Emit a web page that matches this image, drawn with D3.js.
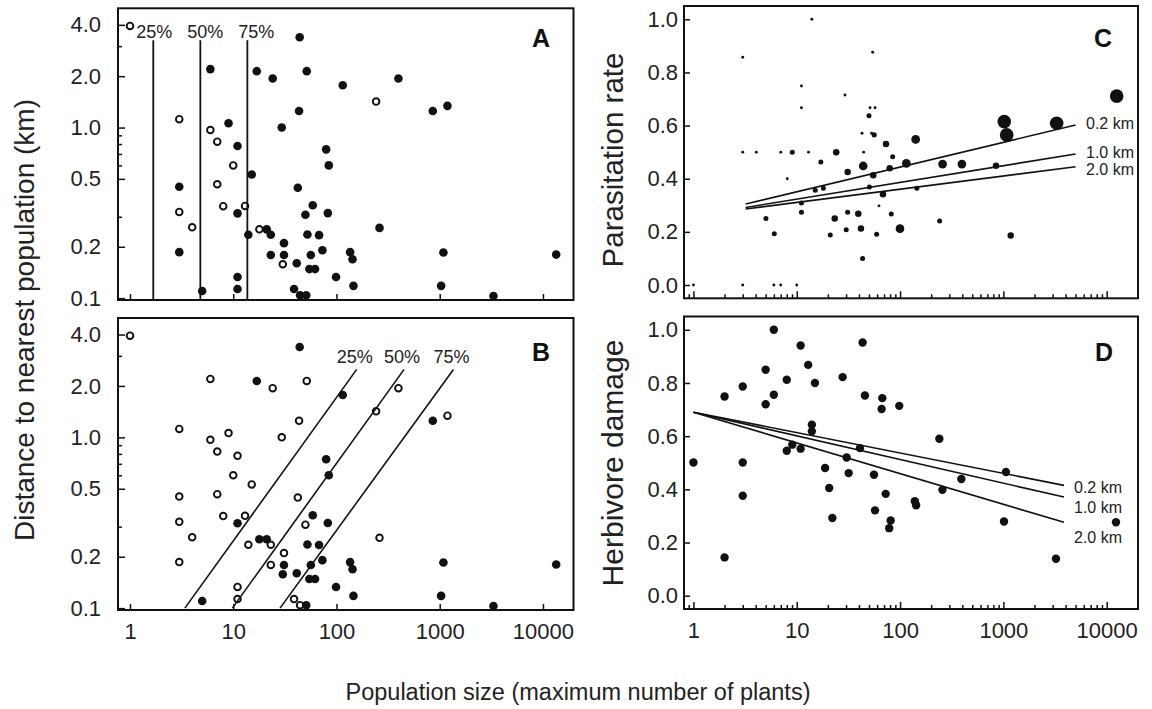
<!DOCTYPE html>
<meta charset="utf-8">
<html>
<body style="margin:0; background-color: white;">
<script src="https://d3js.org/d3.v7.min.js"></script>
<div id="chart"></div>
<script>

    // panels A and B: population size, distance to nearest population (km)
    var popAB  = [1, 6, 16.9, 24.1, 3, 9, 29.5, 6, 7, 11, 10, 15.1, 3, 7, 3, 8, 11, 13, 4, 14,
                  17.9, 21.1, 23.1, 3, 31, 23.1, 31, 30.2, 41.2, 11, 11, 5, 38.8, 44, 51.5, 115, 398, 242, 43.4, 857,
                  1188, 79.4, 84.2, 42.2, 58.9, 50, 82.4, 261, 52.3, 67.8, 73, 56.4, 135.5, 143, 1086, 13430, 54.6, 62, 99, 146,
                  1031, 44.4, 50.9, 3315];
    var distAB = [3.94, 2.2, 2.14, 1.94, 1.12, 1.06, 1.0, 0.967, 0.826, 0.78, 0.6, 0.53, 0.45, 0.465, 0.32, 0.346, 0.314, 0.347, 0.26, 0.235,
                  0.253, 0.253, 0.235, 0.186, 0.21, 0.179, 0.179, 0.158, 0.16, 0.133, 0.113, 0.11, 0.113, 3.38, 2.14, 1.77, 1.94, 1.42, 1.25, 1.25,
                  1.34, 0.745, 0.6, 0.444, 0.35, 0.308, 0.315, 0.258, 0.236, 0.234, 0.191, 0.179, 0.186, 0.169, 0.185, 0.18, 0.148, 0.148, 0.133, 0.118,
                  0.118, 0.104, 0.104, 0.103];
    // 1 = filled symbol, 0 = open symbol
    var filledA = [0, 1, 1, 1, 0, 1, 1, 0, 0, 1, 0, 1, 1, 0, 0, 0, 1, 0, 0, 1,
                   0, 1, 1, 1, 1, 1, 1, 0, 1, 1, 1, 1, 1, 1, 1, 1, 1, 0, 1, 1,
                   1, 1, 1, 1, 1, 1, 1, 1, 1, 1, 1, 1, 1, 1, 1, 1, 1, 1, 1, 1,
                   1, 1, 1, 1];
    var filledB = [0, 0, 1, 0, 0, 0, 0, 0, 0, 0, 0, 0, 0, 0, 0, 0, 1, 0, 0, 0,
                   1, 1, 0, 0, 0, 0, 1, 1, 1, 0, 0, 1, 0, 1, 0, 1, 0, 0, 0, 1,
                   0, 1, 1, 0, 1, 0, 1, 0, 1, 1, 1, 1, 1, 1, 1, 1, 1, 1, 1, 1,
                   1, 0, 1, 1];

    var quartLabels = ["25%", "50%", "75%"];
    var quartA = [1.68, 4.8, 13.7];          // vertical lines in A
    var quartBStart = [3.4, 9.8, 28.4];      // B lines at 0.1 km
    var quartBEnd = [157, 452, 1358];        // B lines at 2.5 km

    // panel C: population size, parasitation rate, sample size
    var popC  = [1, 3, 6, 7, 10, 3, 14, 11.1, 11.1, 29.3, 3, 4.06, 7, 9.05, 13, 24.1, 44.4, 8.1, 17.1, 44,
                 31.1, 15.1, 18.1, 11.1, 11.1, 5.03, 6.06, 23.3, 31.1, 39.4, 21.1, 30.1, 41.8, 43.4, 42.8, 50, 51.2, 57.3, 53, 56.2,
                 73.1, 141.6, 84.8, 79.4, 115, 258, 397, 55, 50.5, 145.5, 68.3, 62.5, 82.2, 241.6, 99.8, 59.3, 54.3, 12500, 1020, 3280,
                 1077, 848, 1178];
    var rateC = [0, 0, 0, 0, 0, 0.857, 1.0, 0.749, 0.667, 0.715, 0.5, 0.5, 0.5, 0.5, 0.5, 0.5, 0.5, 0.4, 0.463, 0.448,
                 0.425, 0.357, 0.364, 0.309, 0.274, 0.25, 0.193, 0.25, 0.274, 0.268, 0.188, 0.208, 0.213, 0.1, 0.571, 0.637, 0.667, 0.667, 0.571, 0.565,
                 0.531, 0.548, 0.483, 0.439, 0.458, 0.455, 0.455, 0.413, 0.369, 0.364, 0.342, 0.298, 0.267, 0.241, 0.212, 0.191, 0.876, 0.711, 0.615, 0.609,
                 0.565, 0.449, 0.186];
    var sampleC = [1, 1, 1, 1, 1, 1, 1, 1, 1, 1, 1, 1, 1, 3, 1, 5, 1, 1, 3, 9,
                   5, 3, 3, 3, 3, 3, 3, 5, 3, 5, 3, 3, 5, 3, 1, 3, 1, 1, 1, 3,
                   5, 9, 3, 5, 9, 9, 9, 5, 3, 3, 5, 1, 3, 3, 9, 3, 1, 22, 22, 22,
                   22, 5, 5];

    // panel D: population size, herbivore damage
    var popD = [1, 2, 2, 3, 3, 3, 5, 5, 6, 6, 8, 8, 9.05, 10.9, 10.9, 12.9, 15, 14, 14, 18.8,
                20.6, 22.1, 27.8, 30.4, 31.8, 40.9, 43.4, 45.7, 67.3, 66.3, 98.2, 240, 55.9, 392, 257, 72.6, 139, 143, 57.2, 81.1,
                78.5, 1059, 1014, 12300, 3230];
    var damageD = [0.501, 0.749, 0.144, 0.787, 0.501, 0.376, 0.85, 0.72, 1.0, 0.756, 0.812, 0.545, 0.568, 0.553, 0.941, 0.868, 0.8, 0.643, 0.618, 0.48,
                   0.405, 0.292, 0.822, 0.52, 0.461, 0.555, 0.952, 0.753, 0.743, 0.702, 0.714, 0.59, 0.455, 0.439, 0.398, 0.383, 0.355, 0.34, 0.321, 0.283,
                   0.254, 0.465, 0.279, 0.276, 0.139];

    // fitted lines for 0.2, 1.0 and 2.0 km
    var kmLabels = ["0.2 km", "1.0 km", "2.0 km"];
    var lineCx = [3.2, 5000];
    var lineCStart = [0.305, 0.292, 0.286];
    var lineCEnd = [0.602, 0.493, 0.445];
    var lineDx = [1, 3860];
    var lineDStart = [0.69, 0.69, 0.69];
    var lineDEnd = [0.415, 0.371, 0.276];

    var logMajor = [1, 10, 100, 1000, 10000];
    var distMajor = [0.1, 0.2, 0.5, 1, 2, 4];
    var distMinor = [0.3, 0.6, 0.7, 0.8, 0.9, 3];
    var rateTicks = [0, 0.2, 0.4, 0.6, 0.8, 1.0];

    var font = "Arial, 'Liberation Sans', Helvetica, sans-serif";

    var svg = d3.select("#chart")
      .append("svg")
        .attr("width", 1152)
        .attr("height", 709)
        .style("font-family", font);

    // scales
    var xL = d3.scaleLog().domain([0.765, 19760]).range([118, 573.5]);
    var xR = d3.scaleLog().domain([0.81, 20100]).range([684, 1138]);
    var yA = d3.scaleLog().domain([0.0975, 5]).range([300, 8.3]);
    var yB = d3.scaleLog().domain([0.0975, 5]).range([610, 318]);
    var yC = d3.scaleLinear().domain([-0.05, 1.05]).range([298.3, 6]);
    var yD = d3.scaleLinear().domain([-0.05, 1.05]).range([609, 316.5]);
    var rC = d3.scaleSqrt().domain([0, 22]).range([0, 6.8]);

    var fmt1 = d3.format(".1f");

    function tidy(g) {
      g.select(".domain").remove();
      g.selectAll(".tick line").attr("stroke", "#111").attr("stroke-width", 1.5);
      g.selectAll(".tick text").attr("fill", "#222").style("font-family", font).attr("font-size", "22px");
    }

    function frame(x, y) {
      svg.append("rect")
        .attr("x", x.range()[0]).attr("y", y.range()[1])
        .attr("width", x.range()[1] - x.range()[0])
        .attr("height", y.range()[0] - y.range()[1])
        .attr("fill", "none").attr("stroke", "#111").attr("stroke-width", 2);
    }

    function minorLog(lo, hi) {
      var out = [];
      for (var p = lo; p <= hi; p *= 10)
        for (var k = 1; k <= 9; k++) {
          var v = p * k;
          if (v >= 0.9 * lo && v <= hi) out.push(v);
        }
      return out;
    }

    // ---------- A and B ----------
    function distPanel(y, filled, showX) {
      var bottom = y.range()[0];
      var left = xL.range()[0];
      svg.append("g").attr("transform", "translate(0," + bottom + ")")
        .call(d3.axisBottom(xL).tickValues(logMajor).tickSize(-6).tickPadding(13)
          .tickFormat(function(d) { return showX ? d3.format("d")(d) : ""; }))
        .call(tidy);
      svg.append("g").attr("transform", "translate(" + left + ",0)")
        .call(d3.axisLeft(y).tickValues(distMajor).tickSize(-7).tickPadding(17).tickFormat(fmt1))
        .call(tidy);
      svg.append("g").attr("transform", "translate(" + left + ",0)")
        .call(d3.axisLeft(y).tickValues(distMinor).tickSize(-4).tickFormat(""))
        .call(tidy);

      var pts = popAB.map(function(d, i) { return {x: d, y: distAB[i], f: filled[i]}; });
      svg.append("g").selectAll("circle")
        .data(pts)
        .enter()
        .append("circle")
          .attr("cx", function(d) { return xL(d.x); })
          .attr("cy", function(d) { return y(d.y); })
          .attr("r", function(d) { return d.f ? 4.3 : 3.3; })
          .attr("fill", function(d) { return d.f ? "#111" : "white"; })
          .attr("stroke", "#111")
          .attr("stroke-width", function(d) { return d.f ? 0 : 1.9; });
    }

    distPanel(yA, filledA, false);
    distPanel(yB, filledB, true);

    // A: vertical quartile lines
    svg.append("g").selectAll("line")
      .data(quartA)
      .enter()
      .append("line")
        .attr("x1", function(d) { return xL(d); })
        .attr("x2", function(d) { return xL(d); })
        .attr("y1", yA(3.25))
        .attr("y2", yA.range()[0])
        .attr("stroke", "#111").attr("stroke-width", 1.8);
    svg.append("g").selectAll("text")
      .data(quartA)
      .enter()
      .append("text")
        .attr("x", function(d, i) { return xL(d) + 1 + i * 4; })
        .attr("y", 38)
        .attr("text-anchor", "middle")
        .attr("font-size", "18px")
        .attr("fill", "#222")
        .text(function(d, i) { return quartLabels[i]; });

    // B: diagonal quartile lines
    svg.append("g").selectAll("line")
      .data(quartBStart)
      .enter()
      .append("line")
        .attr("x1", function(d) { return xL(d); })
        .attr("y1", yB(0.1))
        .attr("x2", function(d, i) { return xL(quartBEnd[i]); })
        .attr("y2", yB(2.5))
        .attr("stroke", "#111").attr("stroke-width", 1.6);
    svg.append("g").selectAll("text")
      .data(quartBEnd)
      .enter()
      .append("text")
        .attr("x", function(d) { return xL(d) - 2; })
        .attr("y", 363)
        .attr("text-anchor", "middle")
        .attr("font-size", "18px")
        .attr("fill", "#222")
        .text(function(d, i) { return quartLabels[i]; });

    frame(xL, yA);
    frame(xL, yB);

    // ---------- C and D ----------
    function ratePanel(y, showX) {
      var bottom = y.range()[0];
      var left = xR.range()[0];
      svg.append("g").attr("transform", "translate(0," + bottom + ")")
        .call(d3.axisBottom(xR).tickValues(logMajor).tickSize(-7).tickPadding(13)
          .tickFormat(function(d) { return showX ? d3.format("d")(d) : ""; }))
        .call(tidy);
      svg.append("g").attr("transform", "translate(0," + bottom + ")")
        .call(d3.axisBottom(xR).tickValues(minorLog(0.1, 10000).filter(function(v) { return logMajor.indexOf(v) < 0 && v >= 0.9; }))
          .tickSize(-4).tickFormat(""))
        .call(tidy);
      svg.append("g").attr("transform", "translate(" + left + ",0)")
        .call(d3.axisLeft(y).tickValues(rateTicks).tickSize(-6).tickPadding(6).tickFormat(fmt1))
        .call(tidy);
    }

    ratePanel(yC, false);
    ratePanel(yD, true);

    // C points, size by sample size
    svg.append("g").selectAll("circle")
      .data(popC)
      .enter()
      .append("circle")
        .attr("cx", function(d) { return xR(d); })
        .attr("cy", function(d, i) { return yC(rateC[i]); })
        .attr("r", function(d, i) { return rC(sampleC[i]); })
        .attr("fill", "#111");

    // D points
    svg.append("g").selectAll("circle")
      .data(popD)
      .enter()
      .append("circle")
        .attr("cx", function(d) { return xR(d); })
        .attr("cy", function(d, i) { return yD(damageD[i]); })
        .attr("r", 4.2)
        .attr("fill", "#111");

    // fitted lines
    function fitLines(y, xs, starts, ends, labelX, labelY) {
      svg.append("g").selectAll("line")
        .data(starts)
        .enter()
        .append("line")
          .attr("x1", xR(xs[0]))
          .attr("x2", xR(xs[1]))
          .attr("y1", function(d) { return y(d); })
          .attr("y2", function(d, i) { return y(ends[i]); })
          .attr("stroke", "#111").attr("stroke-width", 1.6);
      svg.append("g").selectAll("text")
        .data(kmLabels)
        .enter()
        .append("text")
          .attr("x", labelX)
          .attr("y", function(d, i) { return labelY[i]; })
          .attr("font-size", "16px")
          .attr("fill", "#222")
          .text(function(d) { return d; });
    }
    fitLines(yC, lineCx, lineCStart, lineCEnd, 1086, [129, 158, 175]);
    fitLines(yD, lineDx, lineDStart, lineDEnd, 1074, [493, 513, 543]);

    frame(xR, yC);
    frame(xR, yD);

    // panel letters
    var letters = [["A", 541, 47], ["B", 541, 361], ["C", 1103, 47], ["D", 1104, 361]];
    svg.append("g").selectAll("text")
      .data(letters)
      .enter()
      .append("text")
        .attr("x", function(d) { return d[1]; })
        .attr("y", function(d) { return d[2]; })
        .attr("text-anchor", "middle")
        .attr("font-size", "25px")
        .attr("font-weight", "bold")
        .attr("fill", "#111")
        .text(function(d) { return d[0]; });

    // axis titles
    function yTitle(x, y, size, label) {
      svg.append("text")
        .attr("transform", "translate(" + x + "," + y + ") rotate(-90)")
        .attr("text-anchor", "middle")
        .attr("font-size", size)
        .attr("fill", "#222")
        .text(label);
    }
    yTitle(34, 320, "28px", "Distance to nearest population (km)");
    yTitle(623, 160, "29.5px", "Parasitation rate");
    yTitle(623, 463, "30px", "Herbivore damage");

    svg.append("text")
      .attr("x", 578)
      .attr("y", 700)
      .attr("text-anchor", "middle")
      .attr("font-size", "23.5px")
      .attr("fill", "#222")
      .text("Population size (maximum number of plants)");

    </script>
</body>
</html>
